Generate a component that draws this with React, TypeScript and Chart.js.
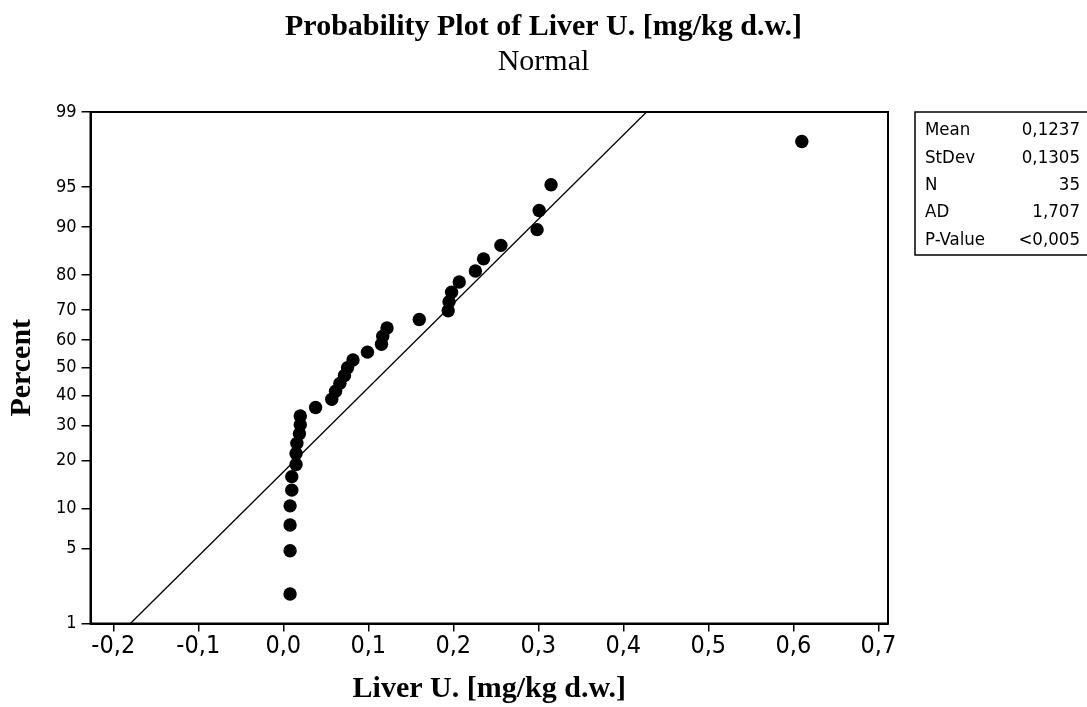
import { useEffect, useRef } from 'react';
import { Chart, registerables, LinearScale } from 'chart.js';

// sorted sample values and their plotting positions (percent)
const liverValues = [
  0.008, 0.008, 0.008, 0.008, 0.010, 0.010, 0.015, 0.015, 0.016, 0.019, 0.020, 0.020,
  0.038, 0.057, 0.0615, 0.0666, 0.072, 0.0756, 0.082, 0.099, 0.1155, 0.117, 0.122,
  0.160, 0.194, 0.195, 0.198, 0.207, 0.226, 0.2356, 0.256, 0.2986, 0.301, 0.315, 0.61,
];
const percentValues = [
  1.98, 4.8, 7.63, 10.45, 13.28, 16.1, 18.93, 21.75, 24.58, 27.4, 30.23, 33.05,
  35.88, 38.7, 41.53, 44.35, 47.18, 50.0, 52.82, 55.65, 58.47, 61.3, 64.12,
  66.95, 69.77, 72.6, 75.42, 78.25, 81.07, 83.9, 86.72, 89.55, 92.37, 95.2, 98.02,
];

// fitted normal line end points
const fitX = [-0.1799, 0.4273];
const fitPercent = [1, 99];

const percentTicks = [1, 5, 10, 20, 30, 40, 50, 60, 70, 80, 90, 95, 99];
const xTicks = [-0.2, -0.1, 0, 0.1, 0.2, 0.3, 0.4, 0.5, 0.6, 0.7];

const statLabels = ['Mean', 'StDev', 'N', 'AD', 'P-Value'];
const statValues = ['0,1237', '0,1305', '35', '1,707', '<0,005'];

const tickFont = "'DejaVu Sans Condensed', 'DejaVu Sans', sans-serif";
const serifFont = "'Liberation Serif', 'DejaVu Serif', serif";

// inverse normal cdf (Acklam), input in percent
function probit(pct: number): number {
  const p = pct / 100;
  const a = [-39.69683028665376, 220.9460984245205, -275.9285104469687, 138.357751867269, -30.66479806614716, 2.506628277459239];
  const b = [-54.47609879822406, 161.5858368580409, -155.6989798598866, 66.80131188771972, -13.28068155288572];
  const c = [-0.007784894002430293, -0.3223964580411365, -2.400758277161838, -2.549732539343734, 4.374664141464968, 2.938163982698783];
  const d = [0.007784695709041462, 0.3224671290700398, 2.445134137142996, 3.754408661907416];
  const lo = 0.02425;
  if (p < lo) {
    const q = Math.sqrt(-2 * Math.log(p));
    return (((((c[0] * q + c[1]) * q + c[2]) * q + c[3]) * q + c[4]) * q + c[5]) / ((((d[0] * q + d[1]) * q + d[2]) * q + d[3]) * q + 1);
  }
  if (p > 1 - lo) {
    const q = Math.sqrt(-2 * Math.log(1 - p));
    return -(((((c[0] * q + c[1]) * q + c[2]) * q + c[3]) * q + c[4]) * q + c[5]) / ((((d[0] * q + d[1]) * q + d[2]) * q + d[3]) * q + 1);
  }
  const q = p - 0.5;
  const r = q * q;
  return ((((((a[0] * r + a[1]) * r + a[2]) * r + a[3]) * r + a[4]) * r + a[5]) * q) /
    (((((b[0] * r + b[1]) * r + b[2]) * r + b[3]) * r + b[4]) * r + 1);
}

function normCdf(z: number): number {
  const t = 1 / (1 + 0.2316419 * Math.abs(z));
  const y = 1 - 0.3989423 * Math.exp(-z * z / 2) *
    t * (0.3193815 + t * (-0.3565638 + t * (1.781478 + t * (-1.821256 + t * 1.330274))));
  return z >= 0 ? y : 1 - y;
}

// percent axis on a normal-probability scale
class ProbitScale extends LinearScale {
  static id = 'probit';
  static defaults = {};

  determineDataLimits() {
    this.min = this.options.min as number;
    this.max = this.options.max as number;
  }

  buildTicks() {
    return percentTicks.map((v) => ({ value: v }));
  }

  getPixelForValue(value: number) {
    const z0 = probit(this.min);
    const z1 = probit(this.max);
    return this.getPixelForDecimal((probit(value) - z0) / (z1 - z0));
  }

  getValueForPixel(pixel: number) {
    const z0 = probit(this.min);
    const z1 = probit(this.max);
    return normCdf(z0 + this.getDecimalForPixel(pixel) * (z1 - z0)) * 100;
  }
}

Chart.register(...registerables, ProbitScale);

const decorations = {
  id: 'minitabDecor',
  beforeDatasetsDraw(chart: Chart) {
    const { ctx, chartArea } = chart;
    ctx.save();
    ctx.strokeStyle = '#000';
    ctx.lineWidth = 2;
    ctx.strokeRect(chartArea.left, chartArea.top, chartArea.right - chartArea.left, chartArea.bottom - chartArea.top);
    ctx.restore();
  },
  afterDraw(chart: Chart) {
    const { ctx, chartArea, width } = chart;
    const cx = width / 2;
    ctx.save();
    ctx.fillStyle = '#000';
    ctx.textAlign = 'center';
    ctx.textBaseline = 'middle';
    ctx.font = `bold 30px ${serifFont}`;
    ctx.fillText('Probability Plot of Liver U. [mg/kg d.w.]', cx, 27);
    ctx.font = `30px ${serifFont}`;
    ctx.fillText('Normal', cx, 62);

    // statistics box
    ctx.strokeStyle = '#000';
    ctx.lineWidth = 1.5;
    ctx.strokeRect(915, chartArea.top, 190, 143);
    ctx.font = `18.5px ${tickFont}`;
    statLabels.forEach((label, i) => {
      const y = chartArea.top + 18.5 + i * 27.3;
      ctx.textAlign = 'left';
      ctx.fillText(label, 925, y);
      ctx.textAlign = 'right';
      ctx.fillText(statValues[i], 1080, y);
    });
    ctx.restore();
  },
};

export default function App() {
  const canvasRef = useRef<HTMLCanvasElement>(null);

  useEffect(() => {
    document.body.style.margin = '0';
    if (!canvasRef.current) return;

    const chart = new Chart(canvasRef.current, {
      type: 'scatter',
      data: {
        datasets: [
          {
            type: 'line',
            data: fitX.map((x, i) => ({ x, y: fitPercent[i] })),
            borderColor: '#000',
            borderWidth: 1.3,
            pointRadius: 0,
            fill: false,
          },
          {
            type: 'scatter',
            data: liverValues.map((x, i) => ({ x, y: percentValues[i] })),
            backgroundColor: '#000',
            borderColor: '#000',
            pointRadius: 6.7,
            borderWidth: 0,
          },
        ],
      },
      plugins: [decorations],
      options: {
        responsive: false,
        animation: false,
        events: [],
        layout: { padding: { top: 112, right: 199, left: 0, bottom: 0 } },
        plugins: {
          legend: { display: false },
          tooltip: { enabled: false },
        },
        scales: {
          x: {
            type: 'linear',
            min: -0.2268,
            max: 0.7114,
            afterBuildTicks: (scale) => {
              scale.ticks = xTicks.map((v) => ({ value: v }));
            },
            afterFit: (scale) => {
              scale.height = 83.5;
            },
            grid: {
              display: true,
              drawOnChartArea: false,
              drawTicks: true,
              tickLength: 8,
              color: '#000',
              lineWidth: 1.5,
            },
            border: { display: true, color: '#000', width: 2 },
            ticks: {
              color: '#000',
              padding: 0,
              maxRotation: 0,
              font: { family: tickFont, size: 25 },
              callback: (v) => Number(v).toFixed(1).replace('.', ','),
            },
            title: {
              display: true,
              text: 'Liver U. [mg/kg d.w.]',
              color: '#000',
              font: { family: serifFont, size: 30, weight: 'bold' },
              padding: { top: 0, bottom: 0 },
            },
          },
          y: {
            type: 'probit' as any,
            min: 1,
            max: 99,
            afterFit: (scale) => {
              scale.width = 90.5;
            },
            grid: {
              display: true,
              drawOnChartArea: false,
              drawTicks: true,
              tickLength: 9,
              color: '#000',
              lineWidth: 1.5,
            },
            border: { display: true, color: '#000', width: 2 },
            ticks: {
              color: '#000',
              padding: 5,
              font: { family: tickFont, size: 18 },
              callback: (v) => String(v),
            },
            title: {
              display: true,
              text: 'Percent',
              color: '#000',
              font: { family: serifFont, size: 30, weight: 'bold' },
              padding: { top: 4, bottom: 0 },
            },
          },
        },
      },
    });

    return () => {
      chart.destroy();
    };
  }, []);

  return (
    <div style={{ width: 1087, height: 707, background: '#fff' }}>
      <canvas ref={canvasRef} width={1087} height={707} />
    </div>
  );
}
